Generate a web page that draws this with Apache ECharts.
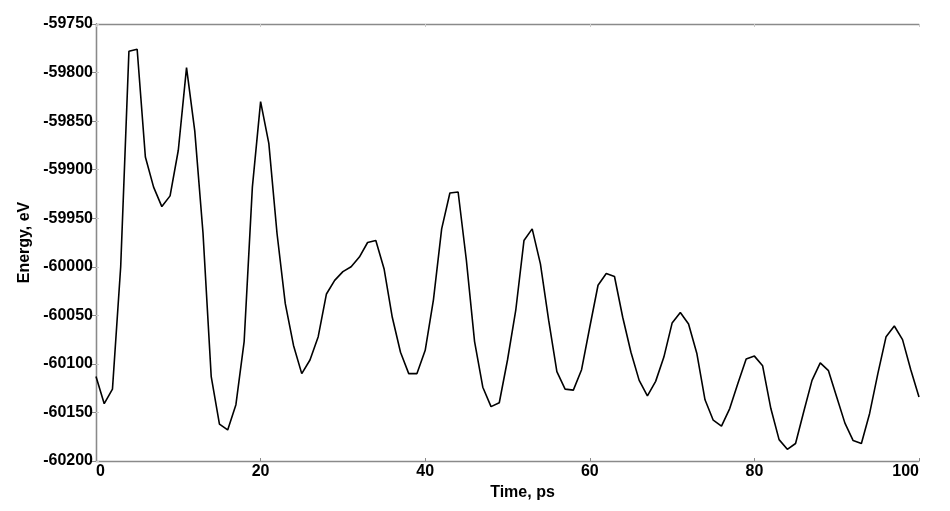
<!DOCTYPE html>
<html>
<head>
<meta charset="utf-8">
<script src="https://cdn.jsdelivr.net/npm/echarts@6/dist/echarts.min.js"></script>
<style>html,body{margin:0;padding:0;background:#fff}#c{width:950px;height:511px}</style>
</head>
<body>
<div id="c"></div>
<script>
var times = [];
for (var i = 0; i <= 100; i++) times.push(i);
var energy = [
-60113,-60141,-60126,-60000,-59778,-59776,-59887,-59918,-59938,-59927,
-59880,-59795,-59860,-59965,-60113,-60162,-60168,-60142,-60077,-59918,
-59830,-59873,-59966,-60038,-60081,-60110,-60096,-60072,-60028,-60014,
-60005,-60000,-59990,-59975,-59973,-60002,-60052,-60088,-60110,-60110,
-60086,-60034,-59961,-59924,-59923,-59993,-60077,-60124,-60144,-60140,
-60096,-60045,-59973,-59961,-59997,-60055,-60108,-60126,-60127,-60106,
-60062,-60019,-60007,-60010,-60052,-60088,-60117,-60133,-60118,-60093,
-60058,-60047,-60059,-60089,-60137,-60158,-60164,-60146,-60120,-60095,
-60092,-60102,-60146,-60178,-60188,-60182,-60149,-60117,-60099,-60107,
-60134,-60161,-60179,-60182,-60151,-60110,-60072,-60061,-60075,-60106,
-60134
];
var xTicks = [0, 20, 40, 60, 80, 100];
var yTicks = [-60200, -60150, -60100, -60050, -60000, -59950, -59900, -59850, -59800, -59750];
var xTitle = 'Time, ps';
var yTitle = 'Energy, eV';

var data = times.map(function (t, i) { return [t, energy[i]]; });
var axisGray = '#8a8a8a';
var font = 'Liberation Sans, Arial, sans-serif';
var plain = function (v) { return String(v); };

var chart = echarts.init(document.getElementById('c'), null, {renderer: 'canvas'});
chart.setOption({
  animation: false,
  backgroundColor: '#fff',
  grid: {left: 96, right: 31, top: 24, bottom: 50, containLabel: false},
  xAxis: [{
    type: 'value', min: xTicks[0], max: xTicks[xTicks.length - 1], interval: 20,
    position: 'bottom',
    name: xTitle, nameLocation: 'middle', nameGap: 11,
    nameTextStyle: {fontFamily: font, fontWeight: 'bold', fontSize: 16, color: '#000', padding: [0, 0, 0, 30], verticalAlign: 'top'},
    axisLine: {show: true, lineStyle: {color: axisGray, width: 1.3}},
    axisTick: {show: true, inside: true, length: 3, lineStyle: {color: axisGray}},
    axisLabel: {fontFamily: font, fontWeight: 'bold', fontSize: 16, color: '#000', margin: 3, alignMinLabel: 'left', alignMaxLabel: 'right', formatter: plain},
    splitLine: {show: false}
  }, {
    type: 'value', min: xTicks[0], max: xTicks[xTicks.length - 1], interval: 20,
    position: 'top',
    axisLine: {show: true, lineStyle: {color: axisGray, width: 1.3}},
    axisTick: {show: true, inside: true, length: 3, lineStyle: {color: '#cccccc'}},
    axisLabel: {show: false},
    splitLine: {show: false}
  }],
  yAxis: [{
    type: 'value', min: yTicks[0], max: yTicks[yTicks.length - 1], interval: 50,
    position: 'left',
    name: yTitle, nameLocation: 'middle', nameGap: 58, nameRotate: 90,
    nameTextStyle: {fontFamily: font, fontWeight: 'bold', fontSize: 16, color: '#000'},
    axisLine: {show: true, lineStyle: {color: axisGray, width: 1.3}},
    axisTick: {show: true, inside: true, length: 3, lineStyle: {color: '#cccccc'}},
    axisLabel: {fontFamily: font, fontWeight: 'bold', fontSize: 16, color: '#000', margin: 3, formatter: plain},
    splitLine: {show: false}
  }, {
    type: 'value', min: yTicks[0], max: yTicks[yTicks.length - 1], interval: 50,
    position: 'right',
    axisLine: {show: true, lineStyle: {color: axisGray, width: 1.3}},
    axisTick: {show: true, inside: true, length: 4, lineStyle: {color: axisGray}},
    axisLabel: {show: false},
    splitLine: {show: false}
  }],
  series: [{
    type: 'line',
    xAxisIndex: 0, yAxisIndex: 0,
    data: data,
    showSymbol: false,
    symbol: 'none',
    lineStyle: {color: '#000', width: 1.6},
    z: 3
  }]
});
</script>
</body>
</html>
